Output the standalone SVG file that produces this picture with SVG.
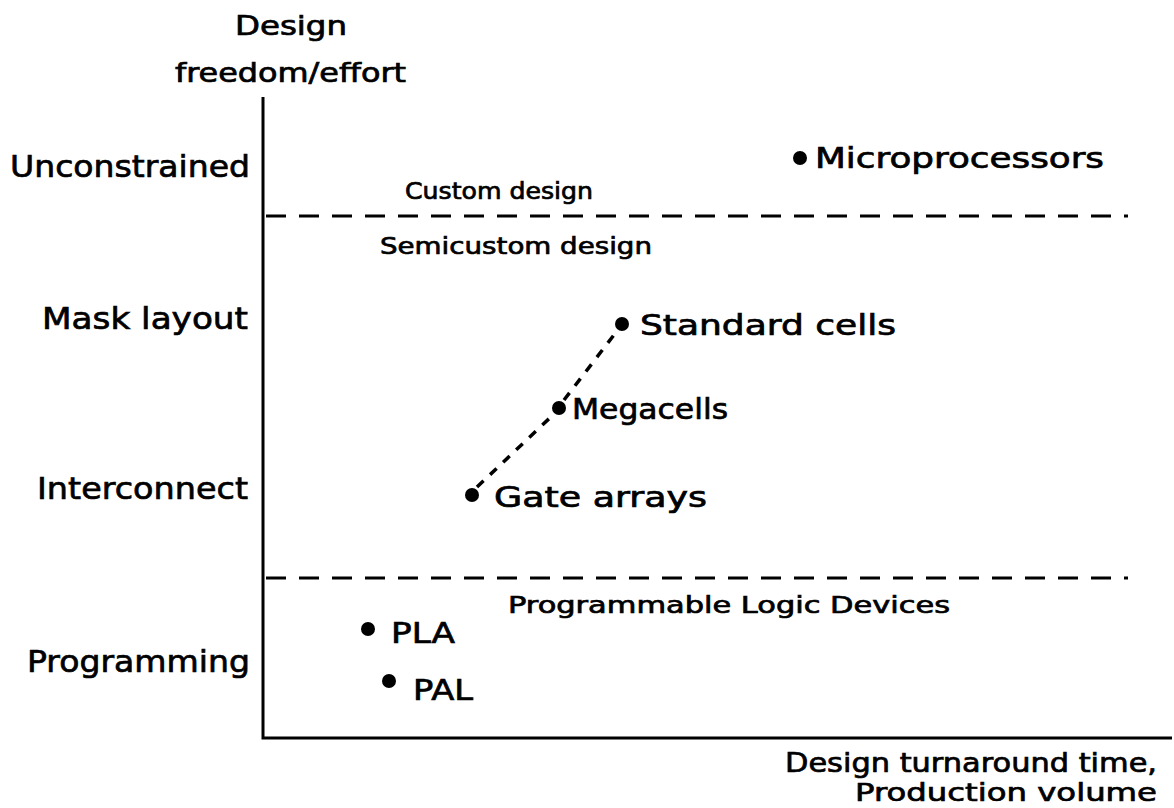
<svg xmlns="http://www.w3.org/2000/svg" width="1174" height="808" viewBox="0 0 1174 808">
<style>
text{font-family:"DejaVu Sans","Liberation Sans",sans-serif;fill:#000;stroke:#000;stroke-width:0.7}
.xl{font-size:31px}
.l{font-size:28px}
.m{font-size:26px}
.s{font-size:23px}
.axis{stroke:#000;stroke-width:3;fill:none}
.dash{stroke:#000;stroke-width:3;stroke-dasharray:20 13;fill:none}
.conn{stroke:#000;stroke-width:3.5;stroke-dasharray:9 9;fill:none}
.dot{fill:#000}
</style>
<rect width="1174" height="808" fill="#fff"/>
<g id="axes">
<path class="axis" d="M263 97 V738 H1172"/>
<text class="m" x="291" y="35" text-anchor="middle" textLength="112" lengthAdjust="spacingAndGlyphs">Design</text>
<text class="m" x="175" y="82" textLength="231" lengthAdjust="spacingAndGlyphs">freedom/effort</text>
<text class="m" x="1157" y="772" text-anchor="end" textLength="372" lengthAdjust="spacingAndGlyphs">Design turnaround time,</text>
<text class="m" x="1157" y="801" text-anchor="end" textLength="302" lengthAdjust="spacingAndGlyphs" style="font-size:25px">Production volume</text>
</g>
<g id="levels">
<text class="xl" x="10" y="177" textLength="240" lengthAdjust="spacingAndGlyphs">Unconstrained</text>
<text class="xl" x="42" y="329" textLength="206" lengthAdjust="spacingAndGlyphs">Mask layout</text>
<text class="xl" x="37" y="499" textLength="211" lengthAdjust="spacingAndGlyphs">Interconnect</text>
<text class="xl" x="27" y="672" textLength="223" lengthAdjust="spacingAndGlyphs">Programming</text>
</g>
<g id="regions">
<path class="dash" d="M266 216 H1128"/>
<path class="dash" d="M266 578 H1128"/>
<text class="s" x="405" y="199" textLength="188" lengthAdjust="spacingAndGlyphs">Custom design</text>
<text class="s" x="380" y="254" textLength="272" lengthAdjust="spacingAndGlyphs">Semicustom design</text>
<text class="s" x="508" y="613" textLength="442" lengthAdjust="spacingAndGlyphs">Programmable Logic Devices</text>
</g>
<g id="connectors">
<path class="conn" d="M477 487 L554 414"/>
<path class="conn" d="M564 400 L617 331"/>
</g>
<g id="microprocessors">
<circle class="dot" cx="800" cy="158" r="7"/>
<text class="l" x="815" y="168" textLength="289" lengthAdjust="spacingAndGlyphs">Microprocessors</text>
</g>
<g id="standard-cells">
<circle class="dot" cx="622" cy="324" r="7"/>
<text class="l" x="640" y="335" textLength="256" lengthAdjust="spacingAndGlyphs">Standard cells</text>
</g>
<g id="megacells">
<circle class="dot" cx="559" cy="408" r="7"/>
<text class="l" x="572" y="419" textLength="156" lengthAdjust="spacingAndGlyphs">Megacells</text>
</g>
<g id="gate-arrays">
<circle class="dot" cx="472" cy="495" r="7"/>
<text class="l" x="494" y="507" textLength="213" lengthAdjust="spacingAndGlyphs">Gate arrays</text>
</g>
<g id="pla">
<circle class="dot" cx="368" cy="629" r="7"/>
<text class="l" x="391" y="643" textLength="64" lengthAdjust="spacingAndGlyphs">PLA</text>
</g>
<g id="pal">
<circle class="dot" cx="389" cy="681" r="7"/>
<text class="l" x="413" y="700" textLength="60" lengthAdjust="spacingAndGlyphs">PAL</text>
</g>
</svg>
